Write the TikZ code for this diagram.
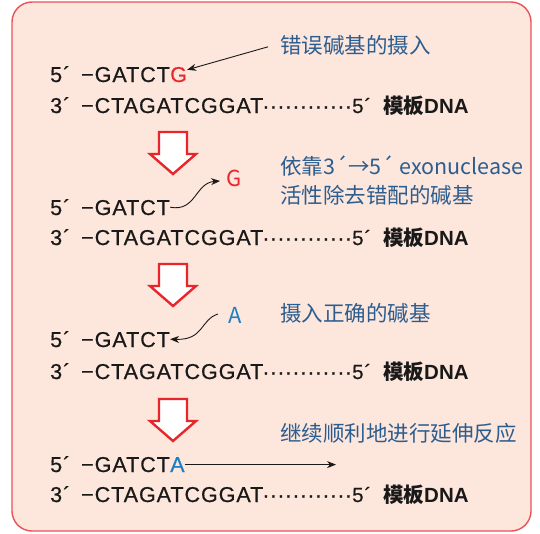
\documentclass[tikz,border=0pt]{standalone}
\usepackage{fontspec}
\setmainfont{Liberation Sans}
\newfontfamily\seqf[FakeBold=0.6,LetterSpace=4.5]{Liberation Sans}
\newfontfamily\dotf[FakeBold=1]{Liberation Sans}
\newfontfamily\cjk{Noto Sans CJK SC}
\usetikzlibrary{arrows.meta,calc}
\definecolor{bgfill}{HTML}{FDE6DC}
\definecolor{bgline}{HTML}{E9525A}
\definecolor{basered}{HTML}{E8262C}
\definecolor{baseblue}{HTML}{1B7FC4}
\definecolor{labelblue}{HTML}{2C5D8F}
\definecolor{bigred}{HTML}{E8252B}
\tikzset{
  seq/.style={anchor=base west,inner sep=0pt,font=\seqf\fontsize{21.5}{24}\selectfont,text=black!90},
  tmpl/.style={anchor=base west,inner sep=0pt,font=\seqf\fontsize{21.5}{24}\selectfont,text=black!90},
  plain/.style={anchor=base west,inner sep=0pt,font=\fontsize{20.5}{24}\selectfont,text=black!90},
  lab/.style={anchor=base west,inner sep=0pt,font=\cjk\fontsize{21.5}{26}\selectfont,text=labelblue},
  loose/.style={anchor=base west,inner sep=0pt,font=\cjk\fontsize{22}{26}\selectfont},
  ptr/.style={draw=black!90,line width=0.9pt,-{Stealth[length=9pt,width=7pt]}},
  bigarrow/.style={draw=bigred,line width=2.4pt,fill=white,line join=miter},
}
\newcommand{\fivep}{\makebox[31pt][l]{5´}}
\newcommand{\threep}{\makebox[31pt][l]{3´}}
\newcommand{\dotrow}{\makebox[90pt][l]{\dotf\xleaders\hbox to 7.5pt{\hss·\hss}\hfill}}
\newcommand{\tmplend}{\makebox[31pt][l]{\seqf 5´}{\cjk\bfseries 模板}{\bfseries DNA}}
\newcommand{\blockarrow}[1]{%
  \draw[bigarrow] (159,#1) -- (187,#1) -- (187,#1+22) -- (196,#1+22) -- (173,#1+42)
    -- (150,#1+22) -- (159,#1+22) -- cycle;}
\begin{document}
\begin{tikzpicture}[x=1pt,y=-1pt]
\useasboundingbox (0,0) rectangle (540,533);
\draw[bgline,fill=bgfill,line width=1.4pt,rounded corners=20pt] (12,2) rectangle (531,531);

% ---------- block 1
\node[seq] (s1) at (50,82) {\fivep−GATCT};
\node[seq,text=basered] (g1) at (s1.base east) {G};
\node[tmpl] (t1) at (50,113) {\threep−CTAGATCGGAT};
\node[plain] (d1) at (262,113) {\dotrow};
\node[plain] (m1) at (352,113) {\tmplend};
\node[lab] (l1) at (280,53) {错误碱基的摄入};
\draw[ptr] ([xshift=-12pt,yshift=-2pt]l1.west) -- ([yshift=-3pt]g1.north east);

\blockarrow{132}

% ---------- block 2
\node[seq] (s2) at (50,215) {\fivep−GATCT};
\node[tmpl] (t2) at (50,245) {\threep−CTAGATCGGAT};
\node[plain] (d2) at (262,245) {\dotrow};
\node[plain] (m2) at (352,245) {\tmplend};
\node[loose,text=basered] (g2) at (226,186) {G};
\node[lab] (l2) at (280,174) {依靠3´→5´ exonuclease};
\node[lab] (l2b) at (280,203) {活性除去错配的碱基};
\draw[ptr] (s2.east) .. controls +(26,5) and +(-25,2) .. ($(g2.west)+(-6,3)$);

\blockarrow{264}

% ---------- block 3
\node[seq] (s3) at (50,347) {\fivep−GATCT};
\node[tmpl] (t3) at (50,379) {\threep−CTAGATCGGAT};
\node[plain] (d3) at (262,379) {\dotrow};
\node[plain] (m3) at (352,379) {\tmplend};
\node[loose,text=baseblue] (a3) at (228,323) {A};
\node[lab] (l3) at (280,321) {摄入正确的碱基};
\draw[ptr] ($(a3.west)+(-10,-1)$) .. controls +(-18,6) and +(34,1) .. (s3.east);

\blockarrow{399}

% ---------- block 4
\node[seq] (s4) at (50,472) {\fivep−GATCT};
\node[seq,text=baseblue] (a4) at (s4.base east) {A};
\node[tmpl] (t4) at (50,502) {\threep−CTAGATCGGAT};
\node[plain] (d4) at (262,502) {\dotrow};
\node[plain] (m4) at (352,502) {\tmplend};
\node[lab] (l4) at (280,441) {继续顺利地进行延伸反应};
\coordinate (e4) at (336,464);
\draw[ptr] (a4.east) -- (a4.east -| e4);
\end{tikzpicture}
\end{document}
